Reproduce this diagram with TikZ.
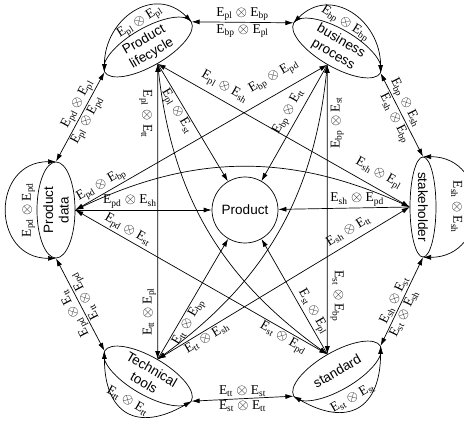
\documentclass[tikz,border=0pt]{standalone}
\usepackage{fontspec}
\setmainfont{Liberation Serif}
\setsansfont{Liberation Sans}
\usetikzlibrary{shapes.geometric, arrows.meta, positioning}

\newcommand{\tens}[2]{E\textsubscript{#1} $\otimes$ E\textsubscript{#2}}

\begin{document}
\begin{tikzpicture}[x=1pt, y=1pt,
    area/.style={ellipse, draw, line width=0.7pt, inner sep=-6pt, minimum width=100pt, minimum height=38pt, align=center, font=\sffamily\fontsize{13.5}{15.5}\selectfont},
    core/.style={circle, draw, line width=0.7pt, inner sep=0pt, minimum size=66pt, font=\sffamily\fontsize{13.5}{16}\selectfont},
    arrow/.style={-{Latex[length=8pt, width=5pt]}, line width=0.7pt},
    biarrow/.style={{Latex[length=8pt, width=5pt]}-{Latex[length=8pt, width=5pt]}, line width=0.7pt},
    rel/.style={font=\fontsize{13.5}{15}\selectfont, inner sep=1.5pt},
]
\useasboundingbox (0,0) rectangle (464,421);

\node[area, rotate=30] (pl) at (148,374) {Product\\lifecycle};
\node[area, rotate=-30] (bp) at (337,373) {business\\process};
\node[area, rotate=90, minimum width=96pt] (pd) at (56,211) {Product\\data};
\node[area, rotate=-90, minimum height=26pt] (sh) at (423,214) {stakeholder};
\node[area, rotate=-30] (tt) at (148,45) {Technical\\tools};
\node[area, rotate=30] (st) at (337,50) {standard};
\node[core] (prod) at (245,211) {Product};

% self relations
\draw[biarrow] (pl.west) to[out=90, in=135, looseness=1.35] node[rel, sloped, below=3pt] {\tens{pl}{pl}} (pl.east);
\draw[biarrow] (bp.west) to[out=45, in=90, looseness=1.35] node[rel, sloped, below=3pt] {\tens{bp}{bp}} (bp.east);
\draw[biarrow] (pd.west) to[out=180, in=180, looseness=1.73] node[rel, sloped, allow upside down, below=13pt] {\tens{pd}{pd}} (pd.east);
\draw[biarrow] (sh.west) to[out=0, in=0, looseness=1.73] node[rel, sloped, allow upside down, below=10pt] {\tens{sh}{sh}} (sh.east);
\draw[biarrow] (tt.west) to[out=270, in=210, looseness=1.6] node[rel, pos=0.45, rotate=-30, anchor=south, inner sep=3pt] {\tens{tt}{tt}} (tt.east);
\draw[biarrow] (st.west) to[out=330, in=270, looseness=1.6] node[rel, pos=0.5, rotate=30, anchor=south, inner sep=4pt] {\tens{st}{st}} (st.east);

% outer ring
\draw[biarrow] (pd.east) -- node[rel, sloped, above, pos=0.6] {\tens{pd}{pl}} node[rel, sloped, below, pos=0.5] {\tens{pl}{pd}} (pl.west);
\draw[biarrow] (pl.east) -- node[rel, above] {\tens{pl}{bp}} node[rel, below] {\tens{bp}{pl}} (bp.west);
\draw[biarrow] (bp.east) -- node[rel, sloped, above, pos=0.4] {\tens{bp}{sh}} node[rel, sloped, below, pos=0.5] {\tens{sh}{bp}} (sh.west);
\draw[biarrow] (sh.east) -- node[rel, sloped, above, pos=0.52] {\tens{sh}{st}} node[rel, sloped, below, pos=0.6] {\tens{st}{sh}} (st.east);
\draw[biarrow] (st.west) -- node[rel, above] {\tens{tt}{st}} node[rel, below] {\tens{st}{tt}} (tt.east);
\draw[biarrow] (tt.west) -- node[rel, sloped, allow upside down, above, pos=0.45] {\tens{pd}{tt}} node[rel, sloped, allow upside down, below, pos=0.55] {\tens{tt}{pd}} (pd.west);

% cross relations
\draw[biarrow] (tt.north) -- node[rel, pos=0.16, rotate=90, anchor=south] {\tens{tt}{pl}} node[rel, pos=0.83, rotate=-90, anchor=north, inner sep=5pt] {\tens{pl}{tt}} (pl.south);
\draw[biarrow] (st.north) -- node[rel, pos=0.2, rotate=-90, anchor=south, inner sep=3pt] {\tens{st}{bp}} node[rel, pos=0.8, rotate=90, anchor=north, inner sep=3pt] {\tens{bp}{st}} (bp.south);
\draw[biarrow] (pl.south) -- node[rel, sloped, above=4pt, pos=0.24] {\tens{pl}{sh}} node[rel, sloped, above=5pt, pos=0.85] {\tens{sh}{pl}} (sh.south);
\draw[biarrow] (bp.south) -- node[rel, sloped, above=8pt, pos=0.18] {\tens{bp}{pd}} node[rel, sloped, above, pos=0.88] {\tens{pd}{bp}} (pd.south);
\draw[biarrow] (pd.south) -- node[rel, sloped, above, pos=0.19] {\tens{pd}{st}} node[rel, sloped, below, pos=0.84] {\tens{st}{pd}} (st.north);
\draw[biarrow] (sh.south) -- node[rel, sloped, above=4pt, pos=0.22] {\tens{sh}{tt}} node[rel, sloped, below, pos=0.82] {\tens{tt}{sh}} (tt.north);
\draw[biarrow] (pl.south) to[bend right=24] (st.north);
\draw[biarrow] (bp.south) to[bend left=24] (tt.north);
\draw[biarrow] (pd.south) to[bend left=25] (sh.south);

% into the product
\draw[arrow] (pl.south) -- node[rel, sloped, below, pos=0.37] {\tens{pl}{st}} (prod);
\draw[arrow] (bp.south) -- node[rel, sloped, above=2pt, pos=0.45] {\tens{bp}{tt}} (prod);
\draw[arrow] (pd.south) -- node[rel, above, pos=0.4] {\tens{pd}{sh}} (prod);
\draw[arrow] (sh.south) -- node[rel, above, pos=0.4] {\tens{sh}{pd}} (prod);
\draw[arrow] (tt.north) -- node[rel, sloped, below, pos=0.34] {\tens{tt}{bp}} (prod);
\draw[arrow] (st.north) -- node[rel, sloped, above, pos=0.33] {\tens{st}{pl}} (prod);
\end{tikzpicture}
\end{document}
